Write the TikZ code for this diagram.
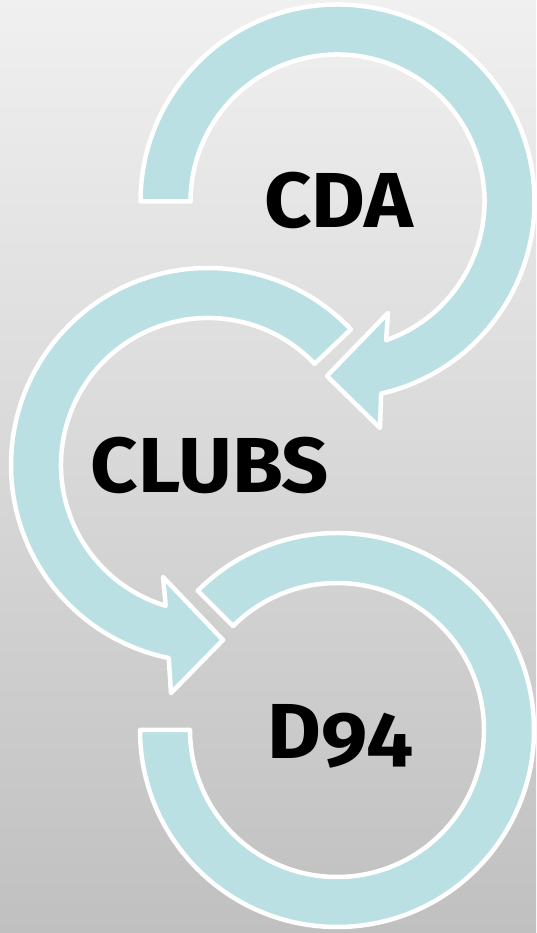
\documentclass[tikz,border=0pt]{standalone}
\usepackage{fontspec}
\setmainfont{Fira Sans}[Numbers=OldStyle,FakeStretch=1.06]
\definecolor{arrowfill}{RGB}{186,224,227}
\definecolor{bgtop}{RGB}{240,240,240}
\definecolor{bgbot}{RGB}{192,192,192}
\begin{document}
\begin{tikzpicture}[x=1pt,y=1pt,
  ringarrow/.style={fill=arrowfill,draw=white,line width=4.5pt,line join=round},
  label/.style={font=\fontsize{78}{80}\selectfont\bfseries,text=black,anchor=base,inner sep=0pt}]
\shade[top color=bgtop,bottom color=bgbot] (0,0) rectangle (536,933);
\useasboundingbox (0,0) rectangle (536,933);
% Arrow 1 (CDA)
\begin{scope}[shift={(337.5,731.5)}]
\draw[ringarrow] (180:147) -- (180:197) arc[start angle=180,end angle=-77.2,radius=197]
  -- (42.5,-226.5) -- (-10.5,-174.5) -- (50.5,-111.5) -- (-70.7:147)
  arc[start angle=-70.7,end angle=180,radius=147] -- cycle;
\end{scope}
% Arrow 2 (CLUBS)
\begin{scope}[shift={(208,468)}]
\draw[ringarrow] (43.5:147) -- (43.5:197) arc[start angle=43.5,end angle=258.5,radius=197]
  -- (-37,-228) -- (15,-175) -- (-45,-112) -- (253.3:147)
  arc[start angle=253.3,end angle=43.5,radius=147] -- cycle;
\end{scope}
% Arrow 3 (D94)
\begin{scope}[shift={(337,203)}]
\draw[ringarrow] (180:147) -- (180:197) arc[start angle=180,end angle=495,radius=197]
  -- (495:147) arc[start angle=495,end angle=180,radius=147] -- cycle;
\end{scope}
\node[label] (cda) at (339,705) {CDA};
\node[label] (clubs) at (210,440) {CLUBS};
\node[label] (d94) at (340,174) {D94};
\end{tikzpicture}
\end{document}
